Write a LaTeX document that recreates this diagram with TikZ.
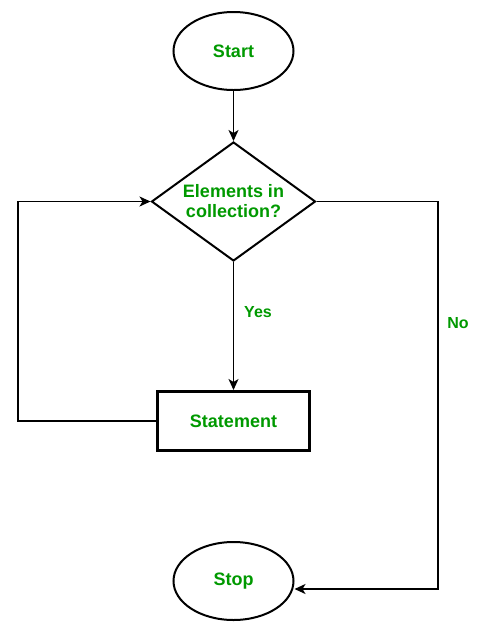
\documentclass[tikz,border=0pt]{standalone}
\usepackage{fontspec}
\setmainfont{Liberation Sans}
\usetikzlibrary{shapes.geometric,arrows.meta}
\definecolor{lbl}{RGB}{0,153,0}
\begin{document}
\begin{tikzpicture}[x=1pt,y=-1pt,
  txt/.style={text=lbl,font=\fontsize{18}{20}\selectfont\bfseries,align=center},
  term/.style={ellipse,draw,line width=2pt,minimum width=120pt,minimum height=78pt,inner sep=0pt,txt},
  decide/.style={diamond,draw,line width=2pt,minimum width=164pt,minimum height=119pt,inner sep=0pt,aspect=1.38,txt},
  proc/.style={rectangle,draw,line width=3pt,minimum width=152pt,minimum height=59pt,inner sep=0pt,txt},
  conn/.style={line width=1.5pt,-{Stealth[length=11pt,width=10pt,inset=3pt]}},
  edgelbl/.style={text=lbl,font=\fontsize{16}{18}\selectfont\bfseries}]
\useasboundingbox (0,0) rectangle (479,633);
\node[term] (start) at (233.5,51) {Start};
\node[decide] (dec) at (233.5,201.5) {Elements in\\collection?};
\node[proc] (stmt) at (233.5,421) {Statement};
\node[term] (stop) at (233.5,581) {Stop};
\coordinate (ltop) at (18,201.5);
\coordinate (lbot) at (18,421);
\coordinate (rtop) at (438,201.5);
\coordinate (rbot) at (438,589);
\draw[conn] (start) -- (dec);
\draw[conn] (dec) -- (dec.south |- stmt.north);
\draw[conn] (stmt.west) -- (lbot) -- (ltop) -- (dec.west);
\draw[conn] (dec.east) -- (rtop) -- (rbot) -- (stop.east |- rbot);
\node[edgelbl] (yes) at (258,312.5) {Yes};
\node[edgelbl] (no) at (458,323) {No};
\end{tikzpicture}
\end{document}
